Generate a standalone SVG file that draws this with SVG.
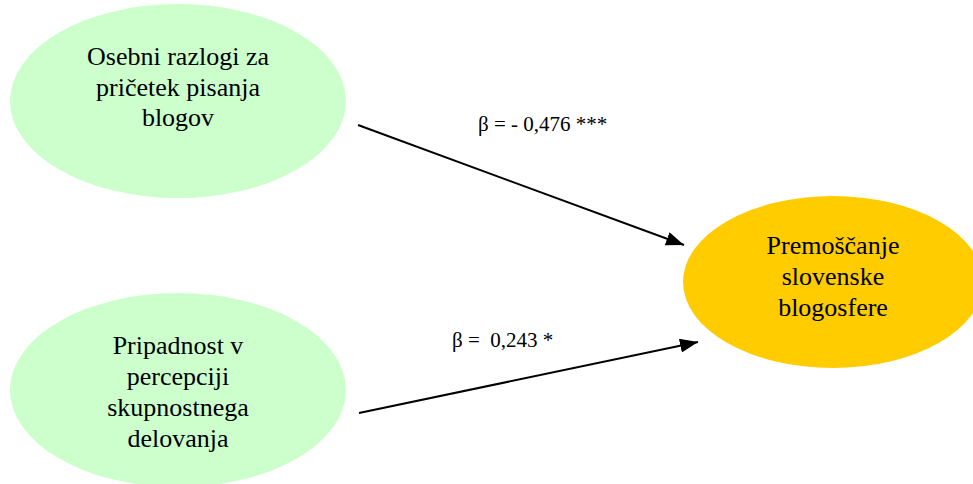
<svg xmlns="http://www.w3.org/2000/svg" width="973" height="484" viewBox="0 0 973 484">
<style>
.node text{font-family:"Liberation Serif","Times New Roman",serif;font-size:26px;fill:#000;text-anchor:middle}
.green{fill:#CCFFCC}
.yellow{fill:#FFCC00}
.edge{stroke:#000;stroke-width:2;fill:none;marker-end:url(#arr)}
.lbl{font-family:"Liberation Serif","Times New Roman",serif;font-size:21px;fill:#000;white-space:pre}
</style>
<defs>
<marker id="arr" markerUnits="userSpaceOnUse" markerWidth="18" markerHeight="14" viewBox="0 0 18 14" refX="18" refY="7" orient="auto">
<path d="M0,0 L18,7 L0,14 Z" fill="#000"/>
</marker>
</defs>
<rect width="973" height="484" fill="#fff"/>
<g id="n1" class="node">
<ellipse class="green" cx="178" cy="101" rx="168" ry="97"/>
<text x="178" y="65">Osebni razlogi za</text>
<text x="178" y="96">pričetek pisanja</text>
<text x="178" y="126">blogov</text>
</g>
<g id="n2" class="node">
<ellipse class="green" cx="178" cy="390" rx="168" ry="97"/>
<text x="178" y="354">Pripadnost v</text>
<text x="178" y="385">percepciji</text>
<text x="178" y="416">skupnostnega</text>
<text x="178" y="447">delovanja</text>
</g>
<g id="n3" class="node">
<ellipse class="yellow" cx="833" cy="282" rx="150" ry="86"/>
<text x="833" y="254">Premoščanje</text>
<text x="833" y="285">slovenske</text>
<text x="833" y="316">blogosfere</text>
</g>
<g id="edges">
<line class="edge" x1="358" y1="125" x2="684" y2="245"/>
<line class="edge" x1="359" y1="413" x2="698" y2="342"/>
<text class="lbl" x="478" y="131">β = - 0,476 ***</text>
<text class="lbl" x="452" y="347">β =  0,243 *</text>
</g>
</svg>
